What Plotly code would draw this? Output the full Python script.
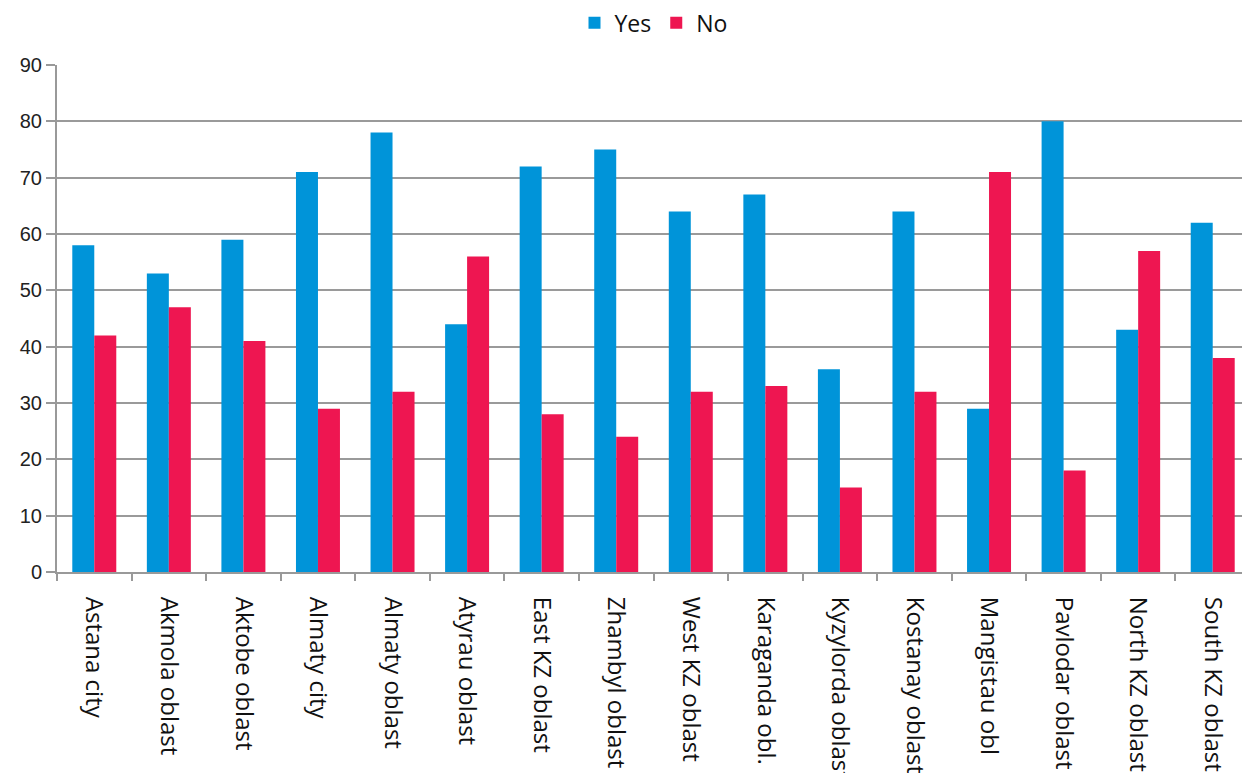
import plotly.graph_objects as go

regions = ["Astana city", "Akmola oblast", "Aktobe oblast", "Almaty city", "Almaty oblast",
           "Atyrau oblast", "East KZ oblast", "Zhambyl oblast", "West KZ oblast", "Karaganda obl.",
           "Kyzylorda oblast", "Kostanay oblast", "Mangistau obl", "Pavlodar oblast",
           "North KZ oblast", "South KZ oblast"]
yes_vals = [58, 53, 59, 71, 78, 44, 72, 75, 64, 67, 36, 64, 29, 80, 43, 62]
no_vals = [42, 47, 41, 29, 32, 56, 28, 24, 32, 33, 15, 32, 71, 18, 57, 38]
y_ticks = [0, 10, 20, 30, 40, 50, 60, 70, 80, 90]

fig = go.Figure()
fig.add_trace(go.Bar(name="Yes", x=regions, y=yes_vals, marker_color="#0094D9", marker_line_width=0))
fig.add_trace(go.Bar(name="No", x=regions, y=no_vals, marker_color="#EE1651", marker_line_width=0))

fig.update_layout(
    width=1250, height=773,
    margin=dict(l=49, r=8, t=57, b=209, autoexpand=False),
    paper_bgcolor="white", plot_bgcolor="white",
    barmode="group", bargap=0.41, bargroupgap=0,
    legend=dict(orientation="h", x=0.5, xanchor="center", y=0.981, yref="container", yanchor="middle",
                font=dict(family="Open Sans", size=23, color="#111"),
                itemwidth=30, tracegroupgap=0),
    font=dict(family="Open Sans", color="#111"),
)
fig.update_xaxes(
    type="category", tickangle=90, tickson="boundaries", automargin=False,
    ticks="outside", ticklen=7, tickcolor="#999", tickwidth=1.5,
    showline=True, linecolor="#999", linewidth=2,
    tickfont=dict(family="Open Sans", size=24, color="#111"),
    ticklabelstandoff=18,
    showgrid=False,
)
fig.update_yaxes(
    range=[0, 90], tickvals=y_ticks, automargin=False,
    showgrid=True, gridcolor="#9a9a9a", gridwidth=1.5,
    ticks="outside", ticklen=9, tickcolor="#999", tickwidth=1.5,
    showline=True, linecolor="#999", linewidth=2,
    tickfont=dict(family="Liberation Sans", size=20, color="#222"),
    zeroline=False,
)
fig.write_html("out.html")
